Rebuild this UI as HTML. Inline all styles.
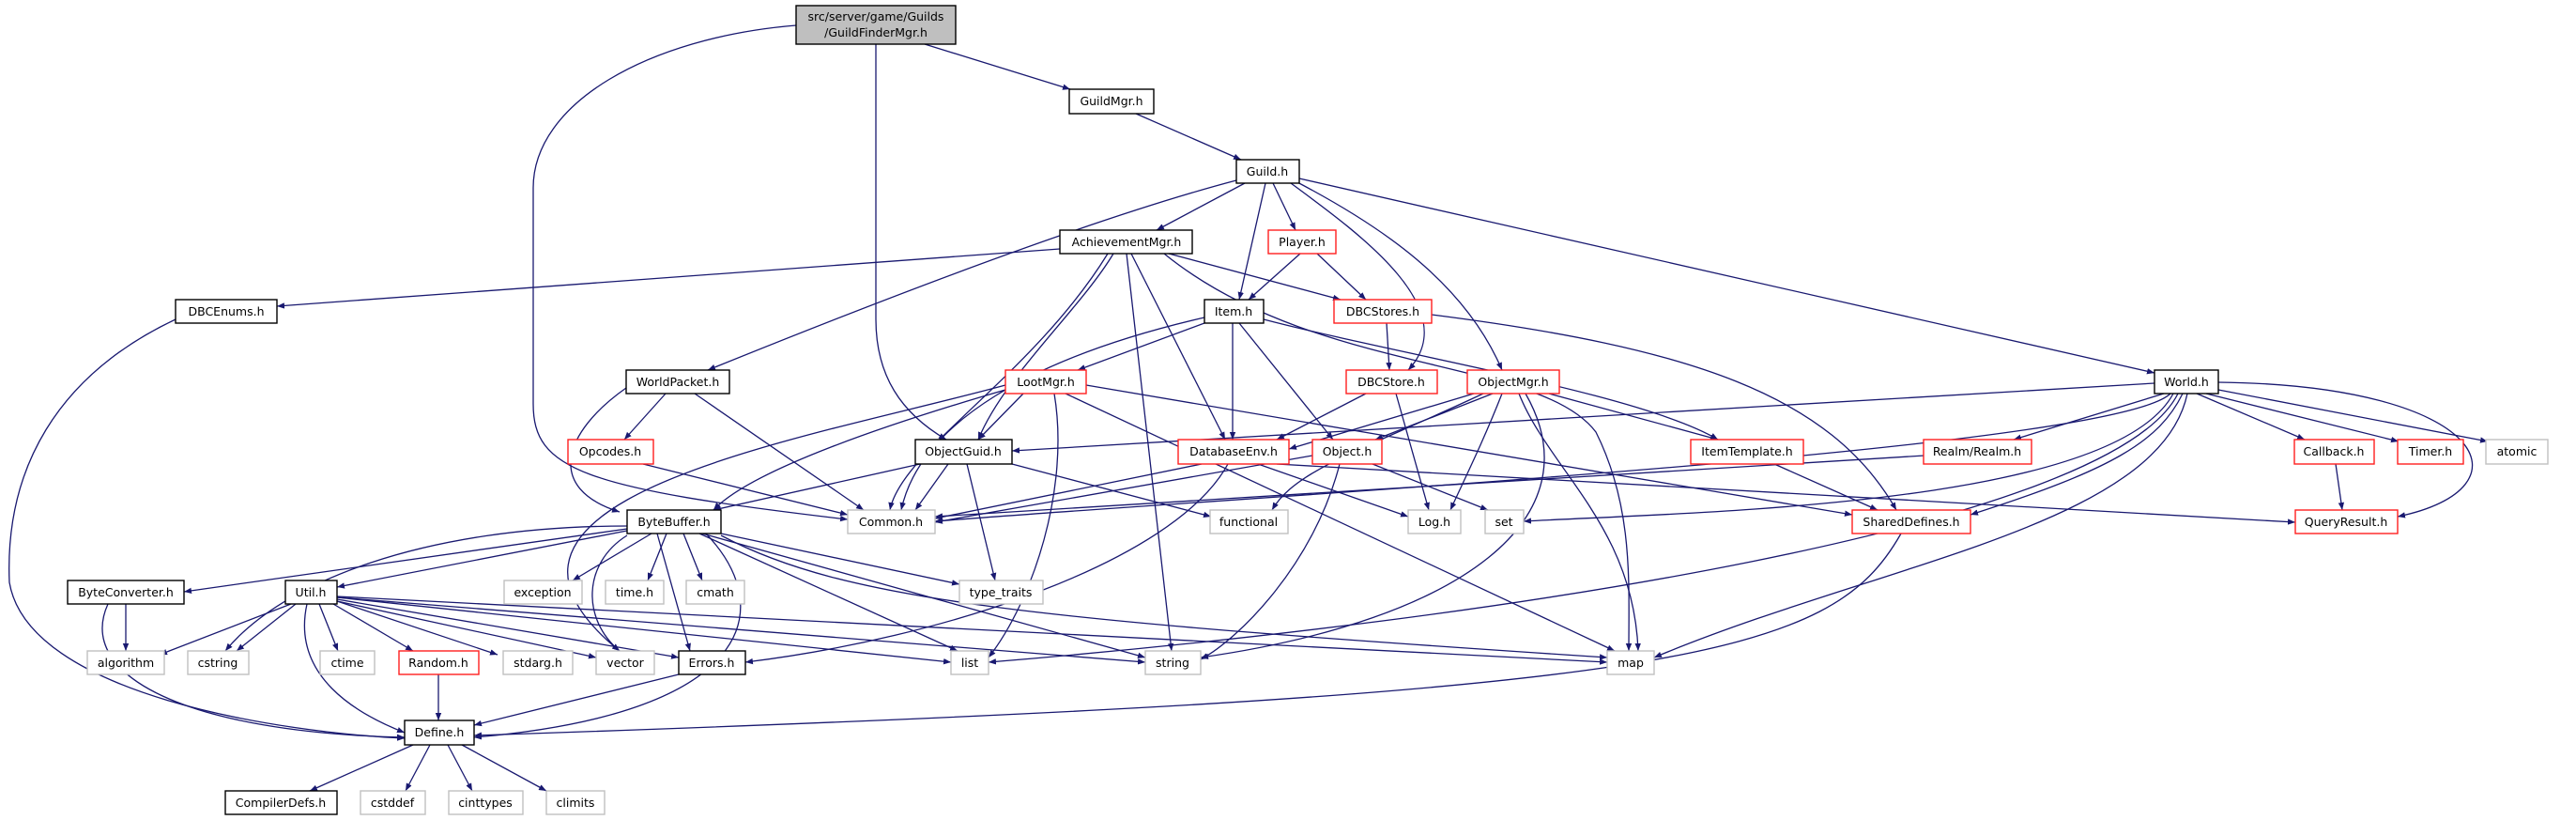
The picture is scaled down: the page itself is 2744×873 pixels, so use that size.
<!DOCTYPE html>
<html><head><meta charset="utf-8"><style>
html,body{margin:0;padding:0;background:#fff;width:2744px;height:873px;overflow:hidden}
svg{display:block}
text{font-family:"DejaVu Sans","Liberation Sans",sans-serif;font-size:12.5px;fill:#000;text-anchor:middle}
.e{fill:none;stroke:#191970;stroke-width:1.3;marker-end:url(#a)}
.k{fill:#fff;stroke:#000;stroke-width:1.4}
.r{fill:#fff;stroke:#ff2020;stroke-width:1.4}
.g{fill:#fff;stroke:#c0c0c0;stroke-width:1.4}
</style></head><body>
<svg width="2744" height="873" viewBox="0 0 2744 873" xmlns="http://www.w3.org/2000/svg">
<defs><marker id="a" viewBox="0 0 10 10" refX="10" refY="5" markerWidth="8" markerHeight="8" orient="auto" markerUnits="userSpaceOnUse"><path d="M0,1 L10,5 L0,9 z" fill="#191970"/></marker></defs>
<g>
<path class="e" d="M985,47 L1140,95"/>
<path class="e" d="M933,47 L933,340 C933,400 960,440 1008,468"/>
<path class="e" d="M848,27 C690,40 568,110 568,200 L568,430 C568,500 620,520 903,553"/>
<path class="e" d="M1210,121 L1322,170"/>
<path class="e" d="M1326,195 L1232,245"/>
<path class="e" d="M1348,195 L1320,319"/>
<path class="e" d="M1356,195 L1380,245"/>
<path class="e" d="M1317,192 Q1134,240 754,394"/>
<path class="e" d="M1375,195 C1450,250 1560,330 1500,394"/>
<path class="e" d="M1380,193 C1470,240 1560,300 1600,394"/>
<path class="e" d="M1384,190 L2295,397"/>
<path class="e" d="M1129,265 L295,326"/>
<path class="e" d="M1245,270 L1428,319"/>
<path class="e" d="M1186,270 C1150,330 1070,400 1042,468"/>
<path class="e" d="M1180,270 C1100,400 960,480 948,543"/>
<path class="e" d="M1205,270 L1305,468"/>
<path class="e" d="M1200,270 L1248,693"/>
<path class="e" d="M1240,270 C1400,400 1640,380 1700,460 C1740,540 1735,620 1735,693"/>
<path class="e" d="M1385,270 L1330,319"/>
<path class="e" d="M1403,270 L1455,319"/>
<path class="e" d="M1283,344 L1148,394"/>
<path class="e" d="M1283,338 C1100,380 980,450 960,543"/>
<path class="e" d="M1313,344 L1313,468"/>
<path class="e" d="M1320,344 L1420,468"/>
<path class="e" d="M1346,340 C1500,380 1750,420 1830,468"/>
<path class="e" d="M187,340 C60,400 5,500 10,620 C30,740 300,780 431,786"/>
<path class="e" d="M709,419 L665,468"/>
<path class="e" d="M667,413 C600,460 580,520 660,545"/>
<path class="e" d="M740,419 L920,543"/>
<path class="e" d="M1090,419 L1042,468"/>
<path class="e" d="M1071,415 C950,450 800,500 760,543"/>
<path class="e" d="M1123,419 C1140,520 1100,640 1053,700"/>
<path class="e" d="M1135,419 L1720,693"/>
<path class="e" d="M1157,410 L1973,548"/>
<path class="e" d="M1071,410 C850,470 460,530 660,693"/>
<path class="e" d="M1477,344 L1480,394"/>
<path class="e" d="M1525,335 C1800,370 1950,420 2020,543"/>
<path class="e" d="M1455,419 L1360,468"/>
<path class="e" d="M1487,419 L1522,543"/>
<path class="e" d="M1570,419 L1373,478"/>
<path class="e" d="M1590,419 L1465,468"/>
<path class="e" d="M1600,419 C1580,470 1560,510 1545,543"/>
<path class="e" d="M1618,419 C1650,500 1740,560 1745,693"/>
<path class="e" d="M1625,419 C1700,550 1560,660 1279,700"/>
<path class="e" d="M1580,419 C1450,480 1380,500 1355,543"/>
<path class="e" d="M1650,419 L1830,468"/>
<path class="e" d="M2295,408 L1078,480"/>
<path class="e" d="M2305,419 L2145,468"/>
<path class="e" d="M2340,419 L2455,468"/>
<path class="e" d="M2350,419 L2555,470"/>
<path class="e" d="M2363,415 L2650,470"/>
<path class="e" d="M2363,407 C2650,410 2700,520 2554,550"/>
<path class="e" d="M2325,419 C2300,470 2250,500 2099,548"/>
<path class="e" d="M2315,419 C2250,540 1800,545 1623,555"/>
<path class="e" d="M2312,419 C2250,480 1300,530 996,555"/>
<path class="e" d="M2330,419 C2300,560 2000,600 1762,700"/>
<path class="e" d="M2320,419 C2250,560 1600,660 1053,705"/>
<path class="e" d="M685,494 L903,548"/>
<path class="e" d="M980,494 L760,543"/>
<path class="e" d="M1010,494 L975,543"/>
<path class="e" d="M1030,494 L1060,618"/>
<path class="e" d="M1078,494 L1290,550"/>
<path class="e" d="M1280,494 L996,552"/>
<path class="e" d="M1340,494 L1500,550"/>
<path class="e" d="M1308,494 C1250,600 1000,680 794,705"/>
<path class="e" d="M1360,494 L2445,556"/>
<path class="e" d="M1398,485 L996,556"/>
<path class="e" d="M1427,494 C1400,600 1320,680 1279,702"/>
<path class="e" d="M1462,494 L1585,543"/>
<path class="e" d="M1890,494 L2000,543"/>
<path class="e" d="M2050,485 L996,550"/>
<path class="e" d="M2488,494 L2495,543"/>
<path class="e" d="M2025,568 C1950,700 1800,740 505,783"/>
<path class="e" d="M668,563 L196,630"/>
<path class="e" d="M668,565 L359,625"/>
<path class="e" d="M668,560 C450,560 300,620 240,693"/>
<path class="e" d="M694,568 L610,618"/>
<path class="e" d="M710,568 L690,618"/>
<path class="e" d="M728,568 L748,618"/>
<path class="e" d="M768,568 L1022,622"/>
<path class="e" d="M745,568 L1020,693"/>
<path class="e" d="M748,568 L1220,700"/>
<path class="e" d="M768,570 C900,640 1100,660 1712,700"/>
<path class="e" d="M668,570 C620,600 620,660 660,693"/>
<path class="e" d="M700,568 L735,693"/>
<path class="e" d="M752,568 C830,650 800,760 505,785"/>
<path class="e" d="M134,643 L134,693"/>
<path class="e" d="M115,643 C80,720 200,780 431,785"/>
<path class="e" d="M310,643 L170,697"/>
<path class="e" d="M315,643 L252,693"/>
<path class="e" d="M340,643 L360,693"/>
<path class="e" d="M355,643 L440,693"/>
<path class="e" d="M359,640 L530,697"/>
<path class="e" d="M359,640 L635,700"/>
<path class="e" d="M359,638 L723,700"/>
<path class="e" d="M359,636 L1013,705"/>
<path class="e" d="M359,636 L1220,705"/>
<path class="e" d="M359,635 L1712,705"/>
<path class="e" d="M327,643 C310,720 380,760 431,780"/>
<path class="e" d="M467,718 L467,767"/>
<path class="e" d="M723,718 L505,772"/>
<path class="e" d="M440,793 L330,842"/>
<path class="e" d="M458,793 L432,842"/>
<path class="e" d="M477,793 L503,842"/>
<path class="e" d="M492,793 L582,842"/>
</g>
<g>
<rect x="848" y="6" width="170" height="41" fill="#bfbfbf" stroke="#000" stroke-width="1.4"/>
<text x="933" y="22">src/server/game/Guilds</text><text x="933" y="39">/GuildFinderMgr.h</text>
<rect class="k" x="1139" y="95" width="90" height="26"/><text x="1184" y="112">GuildMgr.h</text>
<rect class="k" x="1317" y="170" width="67" height="25"/><text x="1350" y="187">Guild.h</text>
<rect class="k" x="1129" y="245" width="141" height="25"/><text x="1200" y="262">AchievementMgr.h</text>
<rect class="r" x="1351" y="245" width="72" height="25"/><text x="1387" y="262">Player.h</text>
<rect class="k" x="187" y="319" width="108" height="25"/><text x="241" y="336">DBCEnums.h</text>
<rect class="k" x="1283" y="319" width="63" height="25"/><text x="1314" y="336">Item.h</text>
<rect class="r" x="1421" y="319" width="104" height="25"/><text x="1473" y="336">DBCStores.h</text>
<rect class="k" x="667" y="394" width="110" height="25"/><text x="722" y="411">WorldPacket.h</text>
<rect class="r" x="1071" y="394" width="86" height="25"/><text x="1114" y="411">LootMgr.h</text>
<rect class="r" x="1434" y="394" width="97" height="25"/><text x="1482" y="411">DBCStore.h</text>
<rect class="r" x="1563" y="394" width="98" height="25"/><text x="1612" y="411">ObjectMgr.h</text>
<rect class="k" x="2295" y="394" width="68" height="25"/><text x="2329" y="411">World.h</text>
<rect class="r" x="605" y="468" width="91" height="26"/><text x="650" y="485">Opcodes.h</text>
<rect class="k" x="975" y="468" width="103" height="26"/><text x="1026" y="485">ObjectGuid.h</text>
<rect class="r" x="1255" y="468" width="118" height="26"/><text x="1314" y="485">DatabaseEnv.h</text>
<rect class="r" x="1398" y="468" width="74" height="26"/><text x="1435" y="485">Object.h</text>
<rect class="r" x="1801" y="468" width="120" height="26"/><text x="1861" y="485">ItemTemplate.h</text>
<rect class="r" x="2049" y="468" width="115" height="26"/><text x="2106" y="485">Realm/Realm.h</text>
<rect class="r" x="2444" y="468" width="85" height="26"/><text x="2486" y="485">Callback.h</text>
<rect class="r" x="2554" y="468" width="70" height="26"/><text x="2589" y="485">Timer.h</text>
<rect class="g" x="2648" y="468" width="66" height="26"/><text x="2681" y="485">atomic</text>
<rect class="k" x="668" y="543" width="100" height="25"/><text x="718" y="560">ByteBuffer.h</text>
<rect class="g" x="903" y="543" width="93" height="25"/><text x="949" y="560">Common.h</text>
<rect class="g" x="1289" y="543" width="83" height="25"/><text x="1330" y="560">functional</text>
<rect class="g" x="1500" y="543" width="56" height="25"/><text x="1528" y="560">Log.h</text>
<rect class="g" x="1582" y="543" width="41" height="25"/><text x="1602" y="560">set</text>
<rect class="r" x="1973" y="543" width="126" height="25"/><text x="2036" y="560">SharedDefines.h</text>
<rect class="r" x="2445" y="543" width="109" height="25"/><text x="2499" y="560">QueryResult.h</text>
<rect class="k" x="72" y="618" width="124" height="25"/><text x="134" y="635">ByteConverter.h</text>
<rect class="k" x="304" y="618" width="55" height="25"/><text x="331" y="635">Util.h</text>
<rect class="g" x="537" y="618" width="83" height="25"/><text x="578" y="635">exception</text>
<rect class="g" x="645" y="618" width="62" height="25"/><text x="676" y="635">time.h</text>
<rect class="g" x="731" y="618" width="62" height="25"/><text x="762" y="635">cmath</text>
<rect class="g" x="1022" y="618" width="89" height="25"/><text x="1066" y="635">type_traits</text>
<rect class="g" x="93" y="693" width="82" height="25"/><text x="134" y="710">algorithm</text>
<rect class="g" x="200" y="693" width="65" height="25"/><text x="232" y="710">cstring</text>
<rect class="g" x="341" y="693" width="58" height="25"/><text x="370" y="710">ctime</text>
<rect class="r" x="425" y="693" width="85" height="25"/><text x="467" y="710">Random.h</text>
<rect class="g" x="536" y="693" width="74" height="25"/><text x="573" y="710">stdarg.h</text>
<rect class="g" x="635" y="693" width="62" height="25"/><text x="666" y="710">vector</text>
<rect class="k" x="723" y="693" width="71" height="25"/><text x="758" y="710">Errors.h</text>
<rect class="g" x="1013" y="693" width="40" height="25"/><text x="1033" y="710">list</text>
<rect class="g" x="1220" y="693" width="59" height="25"/><text x="1249" y="710">string</text>
<rect class="g" x="1712" y="693" width="50" height="25"/><text x="1737" y="710">map</text>
<rect class="k" x="431" y="767" width="74" height="26"/><text x="468" y="784">Define.h</text>
<rect class="k" x="240" y="842" width="119" height="25"/><text x="299" y="859">CompilerDefs.h</text>
<rect class="g" x="384" y="842" width="69" height="25"/><text x="418" y="859">cstddef</text>
<rect class="g" x="478" y="842" width="79" height="25"/><text x="517" y="859">cinttypes</text>
<rect class="g" x="582" y="842" width="62" height="25"/><text x="613" y="859">climits</text>
</g>
</svg>
</body></html>
